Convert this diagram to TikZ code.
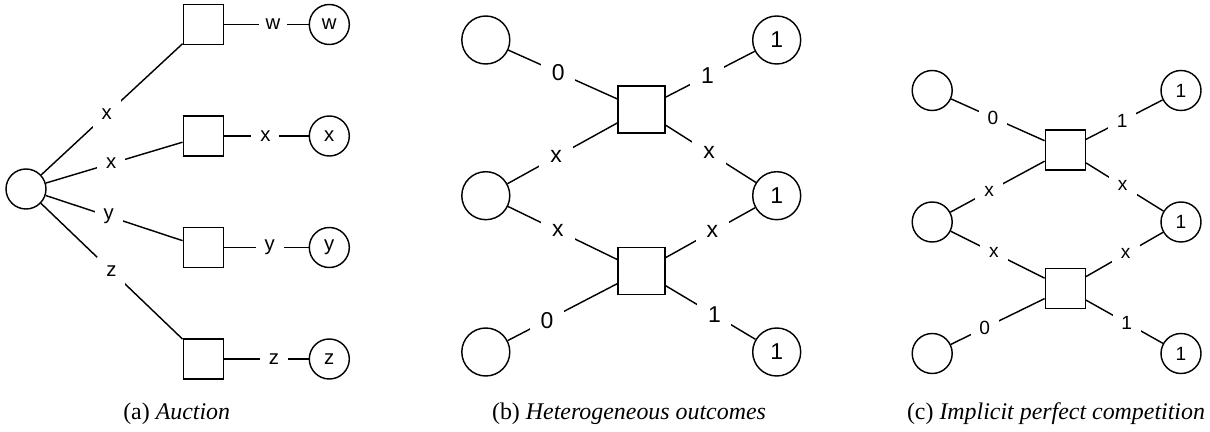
\documentclass[tikz,border=0pt]{standalone}
\usepackage{fontspec}
\setmainfont{Liberation Serif}
\newfontfamily\labelfont{Liberation Sans}
\begin{document}
\begin{tikzpicture}[x=0.4184pt, y=-0.4184pt, line width=0.6pt,
  every node/.style={inner sep=0pt},
  agent/.style={draw, circle, minimum size=#1},
  market/.style={draw, rectangle, minimum size=#1},
  tag/.style={fill=white, minimum width=#1, minimum height=#1},
  fa/.style={font=\labelfont\fontsize{8.5}{10}\selectfont},
  fb/.style={font=\labelfont\fontsize{9.6}{11}\selectfont},
  fc/.style={font=\labelfont\fontsize{8}{9.5}\selectfont},
  caption/.style={font=\fontsize{10}{12}\selectfont}]
\useasboundingbox (0,0) rectangle (1210,432);

% ---------- (a) Auction ----------
\begin{scope}[every node/.append style={fa}]
  \node[agent=16.74pt] (ar) at (26,189) {};
  \node[market=16.74pt] (as1) at (203.3,24.5) {};
  \node[market=16.74pt] (as2) at (203.3,136) {};
  \node[market=16.74pt] (as3) at (203.3,247.5) {};
  \node[market=16.74pt] (as4) at (203.3,359) {};
  \node[agent=16.74pt] (al1) at (329.3,24.5) {w};
  \node[agent=16.74pt] (al2) at (329.3,136) {x};
  \node[agent=16.74pt] (al3) at (329.3,247.5) {y};
  \node[agent=16.74pt] (al4) at (329.3,359) {z};
  \draw (ar) -- node[tag=11.7pt, pos=0.464] {x} (as1);
  \draw (ar) -- node[tag=11.7pt, pos=0.478] {x} (as2);
  \draw (ar) -- node[tag=11.7pt, pos=0.461] {y} (as3);
  \draw (ar) -- node[tag=11.7pt, pos=0.497] {z} (as4);
  \draw (as1) -- node[tag=11.7pt, pos=0.58] {w} (al1);
  \draw (as2) -- node[tag=11.7pt, pos=0.49] {x} (al2);
  \draw (as3) -- node[tag=11.7pt, pos=0.54] {y} (al3);
  \draw (as4) -- node[tag=11.7pt, pos=0.59] {z} (al4);
\end{scope}
\node[caption] (capa) at (176.7,414) {(a) \textit{Auction}};

% ---------- (b) Heterogeneous outcomes ----------
\begin{scope}[every node/.append style={fb}]
  \node[agent=20.08pt] (bl1) at (485.8,40) {};
  \node[agent=20.08pt] (bl2) at (485.8,195.7) {};
  \node[agent=20.08pt] (bl3) at (485.8,352) {};
  \node[agent=20.08pt] (br1) at (776.7,40) {1};
  \node[agent=20.08pt] (br2) at (776.7,195.7) {1};
  \node[agent=20.08pt] (br3) at (776.7,352) {1};
  \node[market=19.66pt] (bs1) at (641.3,109.7) {};
  \node[market=19.66pt] (bs2) at (641.3,271.2) {};
  \draw (bl1) -- node[tag=14.2pt, pos=0.46] {0} (bs1);
  \draw (bs1) -- node[tag=14.2pt, pos=0.47] {1} (br1);
  \draw (bl2) -- node[tag=14.2pt, pos=0.445] {x} (bs1);
  \draw (bs1) -- node[tag=14.2pt, pos=0.483] {x} (br2);
  \draw (bl2) -- node[tag=14.2pt, pos=0.456] {x} (bs2);
  \draw (bs2) -- node[tag=14.2pt, pos=0.524] {x} (br2);
  \draw (bl3) -- node[tag=14.2pt, pos=0.36] {0} (bs2);
  \draw (bs2) -- node[tag=14.2pt, pos=0.544] {1} (br3);
\end{scope}
\node[caption] (capb) at (629,414) {(b) \textit{Heterogeneous outcomes}};

% ---------- (c) Implicit perfect competition ----------
\begin{scope}[every node/.append style={fc}]
  \node[agent=16.74pt] (cl1) at (932.2,90.5) {};
  \node[agent=16.74pt] (cl2) at (932.2,222) {};
  \node[agent=16.74pt] (cl3) at (932.2,353.5) {};
  \node[agent=16.74pt] (cr1) at (1181,90.5) {1};
  \node[agent=16.74pt] (cr2) at (1181,222) {1};
  \node[agent=16.74pt] (cr3) at (1181,353.5) {1};
  \node[market=16.74pt] (cs1) at (1065.3,150) {};
  \node[market=16.74pt] (cs2) at (1065.3,288.5) {};
  \draw (cl1) -- node[tag=11.7pt, pos=0.447] {0} (cs1);
  \draw (cs1) -- node[tag=11.7pt, pos=0.473] {1} (cr1);
  \draw (cl2) -- node[tag=11.7pt, pos=0.41] {x} (cs1);
  \draw (cs1) -- node[tag=11.7pt, pos=0.473] {x} (cr2);
  \draw (cl2) -- node[tag=11.7pt, pos=0.459] {x} (cs2);
  \draw (cs2) -- node[tag=11.7pt, pos=0.516] {x} (cr2);
  \draw (cl3) -- node[tag=11.7pt, pos=0.36] {0} (cs2);
  \draw (cs2) -- node[tag=11.7pt, pos=0.53] {1} (cr3);
\end{scope}
\node[caption] (capc) at (1056,414) {(c) \textit{Implicit perfect competition}};
\end{tikzpicture}
\end{document}
